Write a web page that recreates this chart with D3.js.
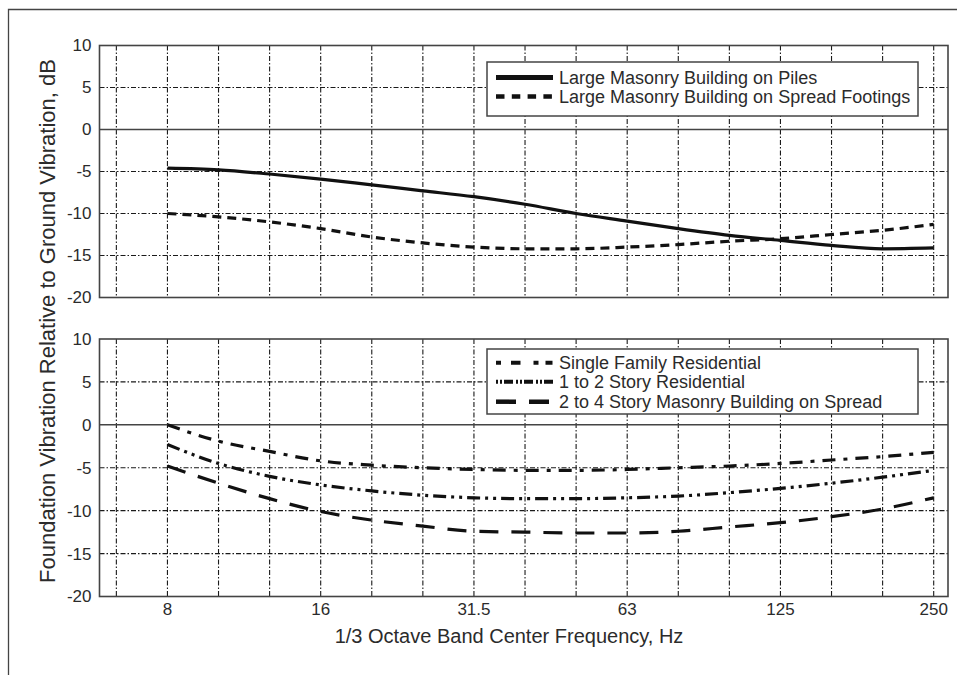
<!DOCTYPE html>
<html>
<head>
<meta charset="utf-8">
<script src="https://cdn.jsdelivr.net/npm/d3@7"></script>
<style>
  html, body { margin: 0; padding: 0; background: #fff; }
  svg { display: block; }
  text { font-family: "Liberation Sans", Arial, sans-serif; fill: #2b2b2b; }
</style>
</head>
<body>
<svg id="chart" width="965" height="675"></svg>
<script>
// ---- Data ----
// 1/3 octave band centre labels (index 0 = 8 Hz, band number 9)
const bandLabels = ["8","10","12.5","16","20","25","31.5","40","50","63","80","100","125","160","200","250"];
const gridBands = ["6.3","8","10","12.5","16","20","25","31.5","40","50","63","80","100","125","160","200","250"];
const tickLabels = ["8","16","31.5","63","125","250"];
const yTicks = [10, 5, 0, -5, -10, -15, -20];

const topSeriesNames = ["Large Masonry Building on Piles", "Large Masonry Building on Spread Footings"];
const piles   = [-4.6,-4.8,-5.3,-5.9,-6.6,-7.3,-8.0,-8.9,-10.0,-10.9,-11.8,-12.6,-13.2,-13.8,-14.2,-14.1];
const spreadFootings = [-10.0,-10.4,-11.0,-11.8,-12.8,-13.5,-14.0,-14.2,-14.2,-14.0,-13.7,-13.3,-13.0,-12.5,-12.0,-11.3];

const bottomSeriesNames = ["Single Family Residential", "1 to 2 Story Residential", "2 to 4 Story Masonry Building on Spread"];
const singleFamily = [0.0,-1.9,-3.1,-4.2,-4.7,-5.0,-5.2,-5.3,-5.3,-5.2,-5.0,-4.8,-4.5,-4.1,-3.7,-3.2];
const oneToTwo     = [-2.3,-4.5,-6.0,-7.0,-7.7,-8.2,-8.5,-8.6,-8.6,-8.5,-8.3,-7.9,-7.4,-6.8,-6.1,-5.3];
const twoToFour    = [-4.8,-6.8,-8.6,-10.1,-11.1,-11.8,-12.4,-12.5,-12.6,-12.6,-12.4,-11.9,-11.4,-10.7,-9.8,-8.5];

// ---- helpers ----
// exact 1/3-octave centre frequency from position in the band list (8 Hz = band 9)
const bandFreq = (i) => Math.pow(10, (9 + i) / 10);

const svg = d3.select("#chart");

// outer frame (left + top, as cropped in the reference)
svg.append("path")
  .attr("d", "M8.5,675 L8.5,9.5 L957,9.5")
  .attr("fill", "none").attr("stroke", "#444").attr("stroke-width", 1.3);

const plotL = 99.5, plotR = 948;
const x = d3.scaleLog()
  .domain([bandFreq(-1.33), bandFreq(15.28)])
  .range([plotL, plotR]);

const gridStroke = "#1a1a1a";
const gridDash = "5,2,1.5,2";

function panel(top, bottom, series, names, styles, legendBox) {
  const y = d3.scaleLinear().domain([-20, 10]).range([bottom, top]);
  const g = svg.append("g");

  // vertical grid lines at every 1/3 octave band
  g.selectAll("line.vg").data(gridBands).enter().append("line")
    .attr("x1", (d, i) => x(bandFreq(i - 1))).attr("x2", (d, i) => x(bandFreq(i - 1)))
    .attr("y1", top).attr("y2", bottom)
    .attr("stroke", gridStroke).attr("stroke-width", 1.1)
    .attr("stroke-dasharray", gridDash);

  // horizontal grid lines
  g.selectAll("line.hg").data(yTicks.filter(v => v !== 10 && v !== -20)).enter().append("line")
    .attr("x1", plotL).attr("x2", plotR)
    .attr("y1", d => y(d)).attr("y2", d => y(d))
    .attr("stroke", d => d === 0 ? "#444" : gridStroke)
    .attr("stroke-width", d => d === 0 ? 1.5 : 1.1)
    .attr("stroke-dasharray", d => d === 0 ? null : gridDash);

  // frame
  g.append("rect").attr("x", plotL).attr("y", top)
    .attr("width", plotR - plotL).attr("height", bottom - top)
    .attr("fill", "none").attr("stroke", "#444").attr("stroke-width", 1.6);

  // y axis tick labels (plain hyphen minus as in the reference)
  const yAxis = d3.axisLeft(y).tickValues(yTicks).tickSize(0).tickPadding(8).tickFormat(d => String(d));
  const ya = g.append("g").attr("transform", `translate(${plotL},0)`).call(yAxis);
  ya.select(".domain").remove();
  ya.selectAll("text").attr("font-size", 17).attr("fill", "#2b2b2b")
    .attr("font-family", "Liberation Sans, Arial, sans-serif");

  // curves
  const line = d3.line()
    .x((d, i) => x(bandFreq(i)))
    .y(d => y(d))
    .curve(d3.curveMonotoneX);
  series.forEach((s, k) => {
    g.append("path").datum(s)
      .attr("d", line)
      .attr("fill", "none")
      .attr("stroke", "#111")
      .attr("stroke-width", styles[k].w)
      .attr("stroke-dasharray", styles[k].dash)
      .attr("stroke-linecap", "butt");
  });

  // legend
  const lg = g.append("g");
  lg.append("rect").attr("x", legendBox.x).attr("y", legendBox.y)
    .attr("width", legendBox.w).attr("height", legendBox.h)
    .attr("fill", "#fff").attr("stroke", "#444").attr("stroke-width", 1.5);
  names.forEach((n, k) => {
    const ry = legendBox.rows[k];
    lg.append("line").attr("x1", 496).attr("x2", 553).attr("y1", ry).attr("y2", ry)
      .attr("stroke", "#111").attr("stroke-width", styles[k].lw)
      .attr("stroke-dasharray", styles[k].ldash);
    lg.append("text").attr("x", 559).attr("y", ry).attr("dy", "0.35em")
      .attr("font-size", 18).text(n);
  });
  return y;
}

panel(45.5, 297.5, [piles, spreadFootings], topSeriesNames,
  [ {w: 3.2, dash: null, lw: 5, ldash: null},
    {w: 3.2, dash: "9,6", lw: 4.5, ldash: "8.5,7.3"} ],
  {x: 487, y: 62, w: 431, h: 54, rows: [77.5, 96.5]});

panel(339, 596.5, [singleFamily, oneToTwo, twoToFour], bottomSeriesNames,
  [ {w: 3.2, dash: "13,8,4,8", lw: 4, ldash: "5,10,9.5,13,5,7,7,10"},
    {w: 3.2, dash: "13,5,3,5,3,5", lw: 4, ldash: "2,2,2,2,9,3,2,2,2,2,9,3"},
    {w: 3.2, dash: "19,13", lw: 4.5, ldash: "20,13"} ],
  {x: 487, y: 349, w: 431, h: 65, rows: [362.7, 381.7, 401.7]});

// x tick labels (under bottom panel)
const xTickG = svg.append("g");
xTickG.selectAll("text").data(tickLabels).enter().append("text")
  .attr("x", d => x(bandFreq(bandLabels.indexOf(d))))
  .attr("y", 615)
  .attr("text-anchor", "middle")
  .attr("font-size", 17)
  .text(d => d);

// axis titles
svg.append("text")
  .attr("x", 509).attr("y", 643)
  .attr("text-anchor", "middle").attr("font-size", 20)
  .text("1/3 Octave Band Center Frequency, Hz");

svg.append("text")
  .attr("transform", "translate(55,321) rotate(-90)")
  .attr("text-anchor", "middle").attr("font-size", 22)
  .text("Foundation Vibration Relative to Ground Vibration, dB");
</script>
</body>
</html>
